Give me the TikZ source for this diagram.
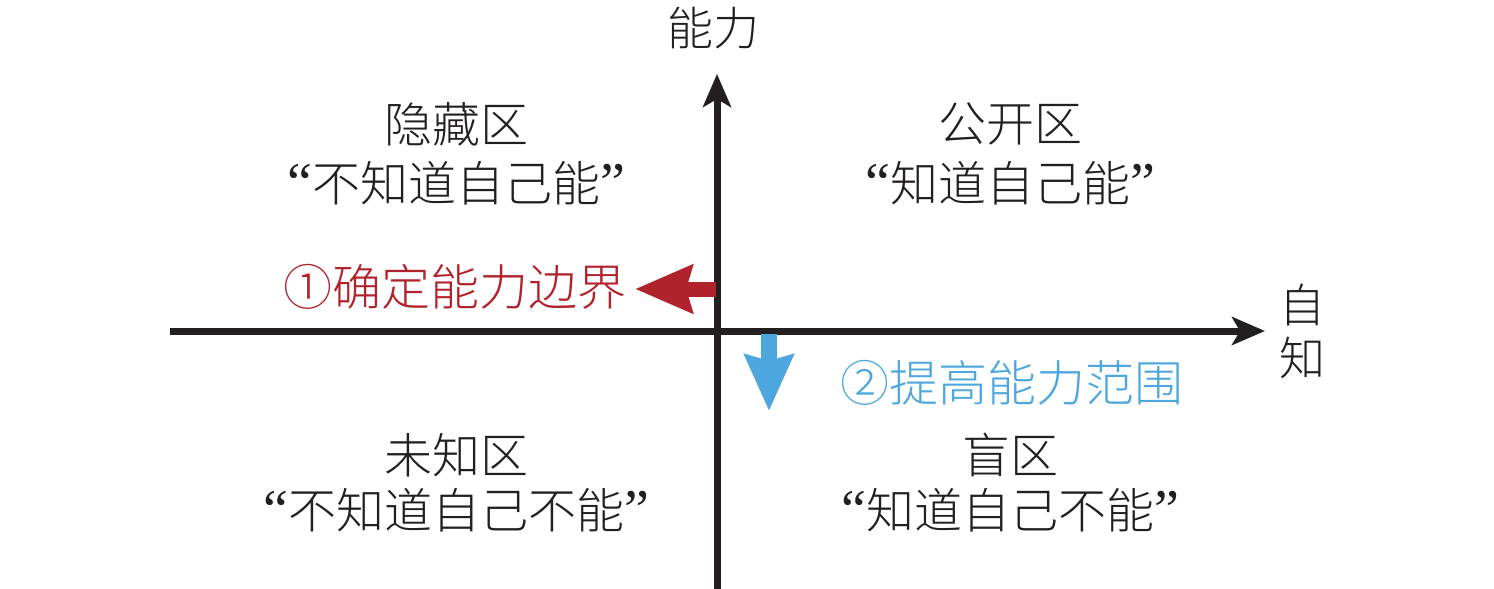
\documentclass[tikz,border=0pt]{standalone}
\usepackage{fontspec}
\usetikzlibrary{arrows.meta}
\newfontfamily\cjk{Noto Sans CJK SC Light}
\newfontfamily\qfont{Liberation Serif}
\definecolor{axiscol}{HTML}{231F20}
\definecolor{redcol}{HTML}{B0232C}
\definecolor{bluecol}{HTML}{4DA7DE}
\newcommand{\myoq}{{\qfont\fontsize{28pt}{28pt}\selectfont\char"201C}}
\newcommand{\mycq}{{\qfont\fontsize{28pt}{28pt}\selectfont\char"201D}}
\tikzset{
  axis/.style={draw=axiscol, line width=3.5pt, -{Stealth[length=16.5pt,width=14pt,inset=4pt]}},
  lbl/.style={text=axiscol, inner sep=0pt, font=\cjk\fontsize{24pt}{28pt}\selectfont},
  axlbl/.style={text=axiscol, inner sep=0pt, font=\cjk\fontsize{23pt}{27pt}\selectfont},
  redlbl/.style={text=redcol, inner sep=0pt, font=\cjk\fontsize{24.5pt}{28pt}\selectfont},
  bluelbl/.style={text=bluecol, inner sep=0pt, font=\cjk\fontsize{24.5pt}{28pt}\selectfont},
  redarrow/.style={draw=redcol, line width=7.5pt, -{Stealth[length=28.5pt,width=23.5pt,inset=3pt]}},
  bluearrow/.style={draw=bluecol, line width=8pt, -{Stealth[length=28pt,width=24pt,inset=3pt]}},
}
\begin{document}
\begin{tikzpicture}[x=0.5pt,y=-0.5pt]
\useasboundingbox (0,0) rectangle (1494,589);
% axes
\coordinate (hstart) at (170,331);
\coordinate (hend) at (1265,331);
\coordinate (vstart) at (717,589);
\coordinate (vend) at (717,74);
\draw[axis] (hstart) -- (hend);
\draw[axis] (vstart) -- (vend);
% axis labels
\node[axlbl] (ability) at (713,28) {能力};
\node[axlbl] (selfa) at (1302,305) {自};
\node[axlbl] (selfb) at (1302,358) {知};
% quadrant labels
\node[lbl] (q2a) at (456,124) {隐藏区};
\node[lbl] (q2b) at (456,183) {\myoq 不知道自己能\mycq};
\node[lbl] (q1a) at (1010,124) {公开区};
\node[lbl] (q1b) at (1010,183) {\myoq 知道自己能\mycq};
\node[lbl] (q3a) at (456,455) {未知区};
\node[lbl] (q3b) at (456,510) {\myoq 不知道自己不能\mycq};
\node[lbl] (q4a) at (1010,455) {盲区};
\node[lbl] (q4b) at (1010,510) {\myoq 知道自己不能\mycq};
% step labels
\node[redlbl] (step1) at (455,287) {①确定能力边界};
\node[bluelbl] (step2) at (1012,383) {②提高能力范围};
% step arrows
\coordinate (r0) at (716,289);
\coordinate (r1) at (635,289);
\coordinate (b0) at (769,334);
\coordinate (b1) at (769,411);
\draw[redarrow] (r0) -- (r1);
\draw[bluearrow] (b0) -- (b1);
\end{tikzpicture}
\end{document}
